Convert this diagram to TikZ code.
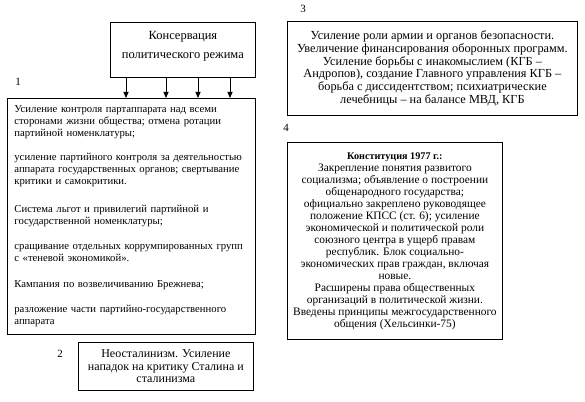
\documentclass[tikz,border=0pt]{standalone}
\usepackage{fontspec}
\setmainfont{Liberation Serif}
\usetikzlibrary{arrows.meta,positioning}

\tikzstyle{blok}=[
	draw=black,
	line width=0.8pt,
	anchor=north west,
	inner sep=0pt
]
\tikzstyle{nomer}=[
	anchor=center,
	font=\fontsize{11}{12}\selectfont
]
\tikzstyle{strelka}=[
	-{Triangle[length=6pt,width=5pt]},
	line width=0.8pt,
	draw=black
]

\begin{document}
\begin{tikzpicture}[x=1pt,y=-1pt]
\useasboundingbox (0,0) rectangle (585,401);

\node[blok, minimum width=145, minimum height=55, align=center,
      font=\fontsize{12.5}{19}\selectfont] (kons) at (110,22)
      {Консервация\\политического режима\\[-9pt]\mbox{}};

\node[blok, minimum width=248, minimum height=236, text width=234, align=left,
      font=\fontsize{10.7}{12}\selectfont] (b1) at (7,98)
      {Усиление контроля партаппарата над всеми\\
       сторонами жизни общества; отмена ротации\\
       партийной номенклатуры;\\[12pt]
       усиление партийного контроля за деятельностью\\
       аппарата государственных органов; свертывание\\
       критики и самокритики.\\[16pt]
       Система льгот и привилегий партийной и\\
       государственной номенклатуры;\\[13pt]
       сращивание отдельных коррумпированных групп\\
       с «теневой экономикой».\\[14pt]
       Кампания по возвеличиванию Брежнева;\\[13pt]
       разложение части партийно-государственного\\
       аппарата};

\node[blok, minimum width=175, minimum height=48, align=center,
      font=\fontsize{12}{12.5}\selectfont] (b2) at (78,342)
      {Неосталинизм. Усиление\\нападок на критику Сталина и\\сталинизма};

\node[blok, minimum width=290, minimum height=94, align=center,
      font=\fontsize{12.3}{12.7}\selectfont] (b3) at (287,21)
      {Усиление роли армии и органов безопасности.\\
       Увеличение финансирования оборонных программ.\\
       Усиление борьбы с инакомыслием (КГБ –\\
       Андропов), создание Главного управления КГБ –\\
       борьба с диссидентством; психиатрические\\
       лечебницы – на балансе МВД, КГБ};

\node[blok, minimum width=215, minimum height=197, align=center,
      font=\fontsize{11.4}{12}\selectfont] (b4) at (287,142)
      {{\fontsize{10.2}{12}\selectfont\bfseries Конституция 1977 г.:}\\
       Закрепление понятия развитого\\
       социализма; объявление о построении\\
       общенародного государства;\\
       официально закреплено руководящее\\
       положение КПСС (ст. 6); усиление\\
       экономической и политической роли\\
       союзного центра в ущерб правам\\
       республик. Блок социально-\\
       экономических прав граждан, включая\\
       новые.\\
       Расширены права общественных\\
       организаций в политической жизни.\\
       Введены принципы межгосударственного\\
       общения (Хельсинки-75)};

\node[nomer] (n1) at (18,82) {1};
\node[nomer] (n2) at (60,354) {2};
\node[nomer] (n3) at (303,9) {3};
\node[nomer] (n4) at (286,128) {4};

\foreach \x in {126,166,198,230}
	\draw[strelka] (kons.south -| \x,0) -- (b1.north -| \x,0);

\end{tikzpicture}
\end{document}
